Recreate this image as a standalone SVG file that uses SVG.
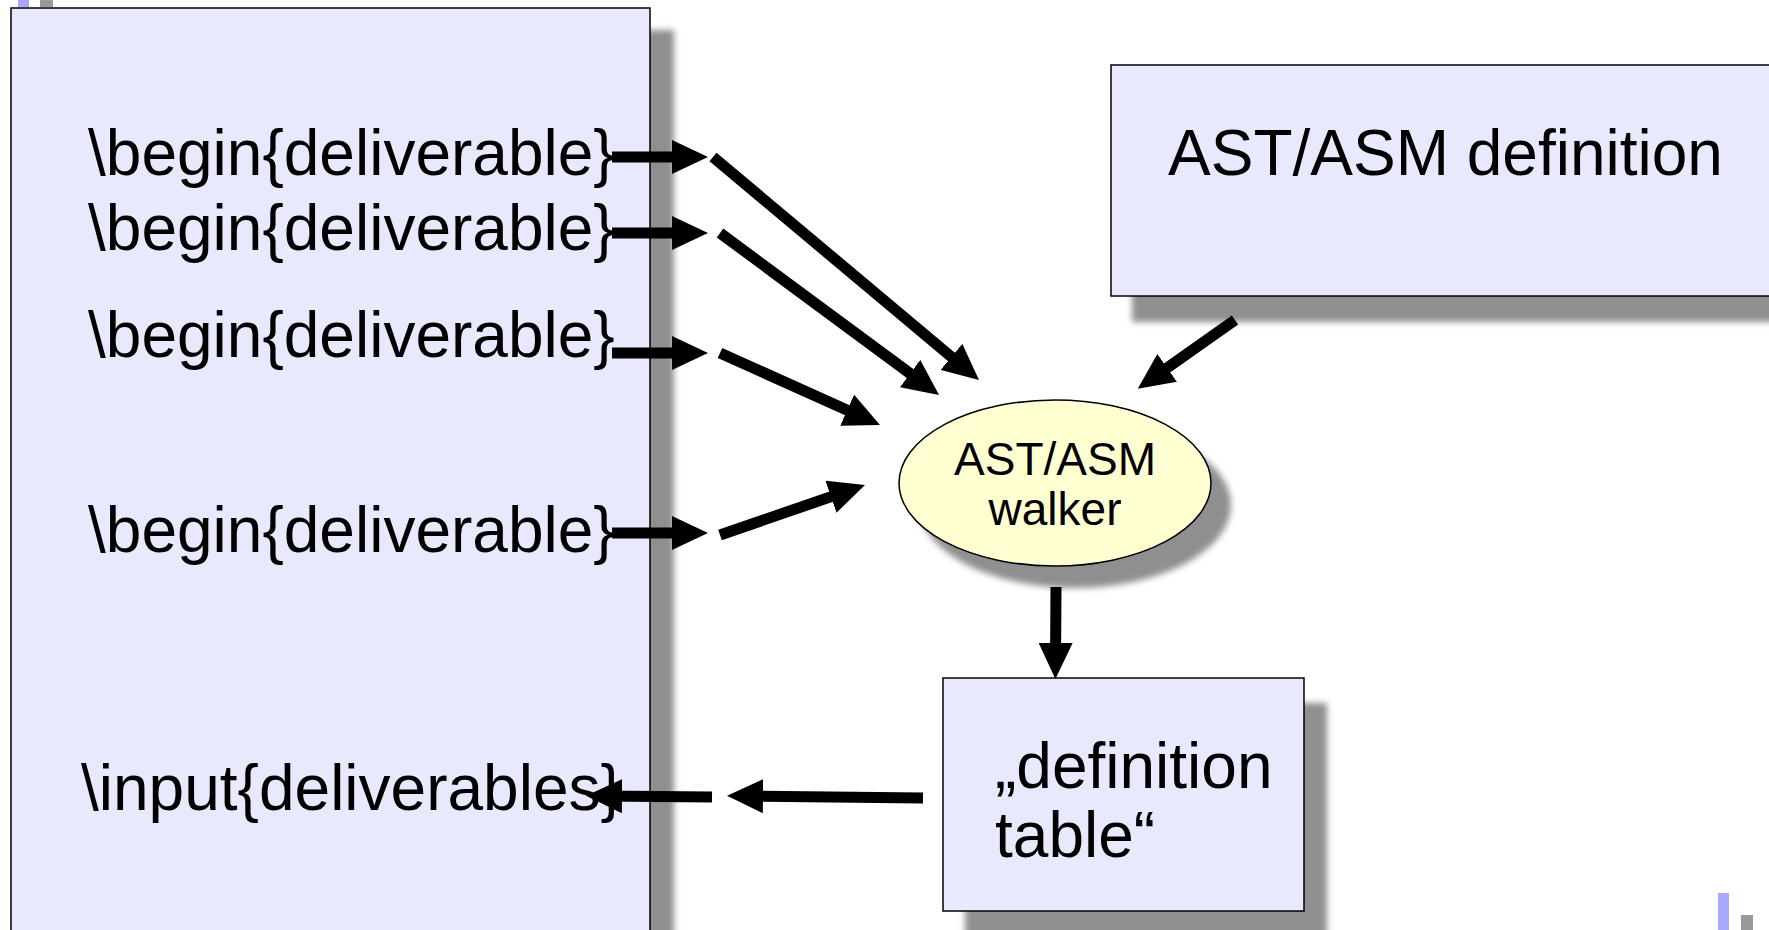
<svg xmlns="http://www.w3.org/2000/svg" width="1769" height="930" viewBox="0 0 1769 930">
<style>
.box{fill:#E9E9FD;stroke:#000;stroke-width:1.5}
.shadow{fill:#8F8F8F;filter:url(#blur)}
.t{font-family:"Liberation Sans",Arial,sans-serif;font-size:64px;fill:#000}
.ts{font-family:"Liberation Sans",Arial,sans-serif;font-size:46px;fill:#000;text-anchor:middle}
.arr{stroke:#000;stroke-width:11;fill:none;marker-end:url(#head)}
</style>
<defs>
<filter id="blur" x="-10%" y="-10%" width="120%" height="120%"><feGaussianBlur stdDeviation="3"/></filter>
<marker id="head" viewBox="0 0 36 34" markerWidth="36" markerHeight="34" markerUnits="userSpaceOnUse" refX="21" refY="17" orient="auto"><path d="M0,0 L36,17 L0,34 Z" fill="#000"/></marker>
</defs>
<rect width="1769" height="930" fill="#fff"/>
<rect x="18" y="0" width="11" height="7" fill="#A8A8FF"/>
<rect x="40" y="0" width="13" height="7" fill="#999"/>
<rect x="1718" y="893" width="11" height="37" fill="#A8A8FF"/>
<rect x="1741" y="915" width="12" height="15" fill="#999"/>

<g id="source">
<rect class="shadow" x="34" y="30" width="640" height="940"/>
<rect class="box" x="11" y="8" width="639" height="940"/>
<text class="t" x="88" y="175">\begin{deliverable}</text>
<text class="t" x="88" y="250">\begin{deliverable}</text>
<text class="t" x="88" y="357">\begin{deliverable}</text>
<text class="t" x="88" y="552">\begin{deliverable}</text>
<text class="t" x="81" y="810">\input{deliverables}</text>
</g>

<g id="astdef">
<rect class="shadow" x="1132" y="90" width="680" height="232"/>
<rect class="box" x="1111" y="65" width="680" height="231"/>
<text class="t" x="1168" y="175">AST/ASM definition</text>
</g>

<g id="walker">
<ellipse cx="1075" cy="505" rx="156" ry="83" fill="#8F8F8F" filter="url(#blur)"/>
<ellipse cx="1055" cy="483" rx="156" ry="83" fill="#FFFFD2" stroke="#000" stroke-width="1.5"/>
<text class="ts" x="1055" y="475">AST/ASM</text>
<text class="ts" x="1055" y="525">walker</text>
</g>

<g id="table">
<rect class="shadow" x="965" y="703" width="362" height="240"/>
<rect class="box" x="943" y="678" width="361" height="233"/>
<text class="t" x="995" y="788">„definition</text>
<text class="t" x="995" y="857">table“</text>
</g>

<g id="connectors">
<line class="arr" x1="612" y1="157" x2="693" y2="157"/>
<line class="arr" x1="612" y1="233" x2="693" y2="233"/>
<line class="arr" x1="612" y1="353" x2="693" y2="353"/>
<line class="arr" x1="612" y1="533" x2="693" y2="533"/>
<line class="arr" x1="713" y1="157" x2="967.5" y2="370.4"/>
<line class="arr" x1="720" y1="233" x2="927" y2="386"/>
<line class="arr" x1="720" y1="353" x2="866.3" y2="418.8"/>
<line class="arr" x1="720" y1="535" x2="850.8" y2="489.9"/>
<line class="arr" x1="1235" y1="320" x2="1150" y2="380"/>
<line class="arr" x1="1056" y1="587" x2="1055.5" y2="664"/>
<line class="arr" x1="923" y1="798" x2="742" y2="796"/>
<line class="arr" x1="712" y1="797" x2="601" y2="796"/>
</g>
</svg>
